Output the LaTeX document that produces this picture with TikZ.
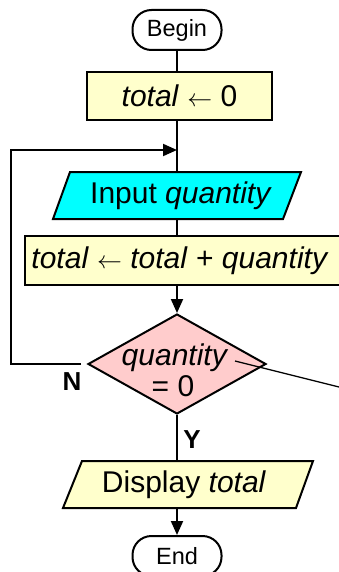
\documentclass[tikz,border=0pt]{standalone}
\usepackage{fontspec}
\setmainfont{Liberation Sans}
\usetikzlibrary{shapes.geometric,arrows.meta}
\definecolor{procyellow}{HTML}{FFFFCC}
\definecolor{inputcyan}{HTML}{00FFFF}
\definecolor{decpink}{HTML}{FFCCCC}
\begin{document}
\begin{tikzpicture}[x=1pt,y=-1pt,
  every node/.style={font=\fontsize{30}{34}\selectfont},
  line/.style={line width=2pt},
  arr/.style={line width=2pt,-{Triangle[length=14pt,width=12pt]}},
  term/.style={draw,line width=2pt,rounded corners=19pt,minimum width=89pt,minimum height=40pt,inner sep=0pt,font=\fontsize{23.5}{27}\selectfont},
  procbox/.style={draw,line width=2pt,fill=procyellow,inner sep=0pt},
  io/.style={draw,line width=2pt},
  lbl/.style={font=\bfseries\fontsize{26}{30}\selectfont}
]
\useasboundingbox (0,0) rectangle (339,572);

% shapes
\node[term] (begin) at (177,30) {Begin};
\node[procbox, minimum width=185pt, minimum height=48pt] (init) at (179.5,96) {\textit{total} $\leftarrow$ 0};

\path[io, fill=inputcyan] (70,172) -- (301,172) -- (283,219) -- (53,219) -- cycle;
\node[inner sep=0pt, minimum height=47pt] (input) at (181,195.5) {Input \textit{quantity}};

\node[procbox, minimum width=316pt, minimum height=49pt] (upd) at (183,260.5) {};
\node[inner sep=0pt] (updtext) at (180,261) {\textit{total} $\leftarrow$ \textit{total} + \textit{quantity}};

\node[draw, diamond, fill=decpink, line width=2pt, minimum width=178pt, minimum height=100pt, inner sep=0pt] (dec) at (177,364) {};
\node[anchor=base, inner sep=0pt] (decq) at (175,365) {\textit{quantity}};
\node[anchor=base, inner sep=0pt] (decz) at (173,396) {= 0};

\path[io, fill=procyellow] (82,461) -- (313,461) -- (296,508) -- (63,508) -- cycle;
\node[inner sep=0pt, minimum height=47pt] (disp) at (184,484.5) {Display \textit{total}};

\node[term] (finish) at (177,556) {End};

% connectors
\draw[line] (begin.south) -- (begin.south |- init.north);
\draw[line] (begin.south |- init.south) -- (begin.south |- input.north);
\draw[line] (begin.south |- input.south) -- (begin.south |- upd.north);
\draw[arr] (begin.south |- upd.south) -- (dec.north);
\draw[line] (dec.south) -- (dec.south |- disp.north);
\draw[arr] (dec.south |- disp.south) -- (finish.north);

\coordinate (loopin) at (177,150);
\draw[arr] ([xshift=-6pt]dec.west) -- ++(-70,0) |- (loopin);

\coordinate (diagstart) at (235,361);
\coordinate (diagend) at (345,388.5);
\draw[line width=1.3pt] (diagstart) -- (diagend);

% labels
\node[lbl] (nlab) at (72,382) {N};
\node[lbl] (ylab) at (192,440) {Y};
\end{tikzpicture}
\end{document}
